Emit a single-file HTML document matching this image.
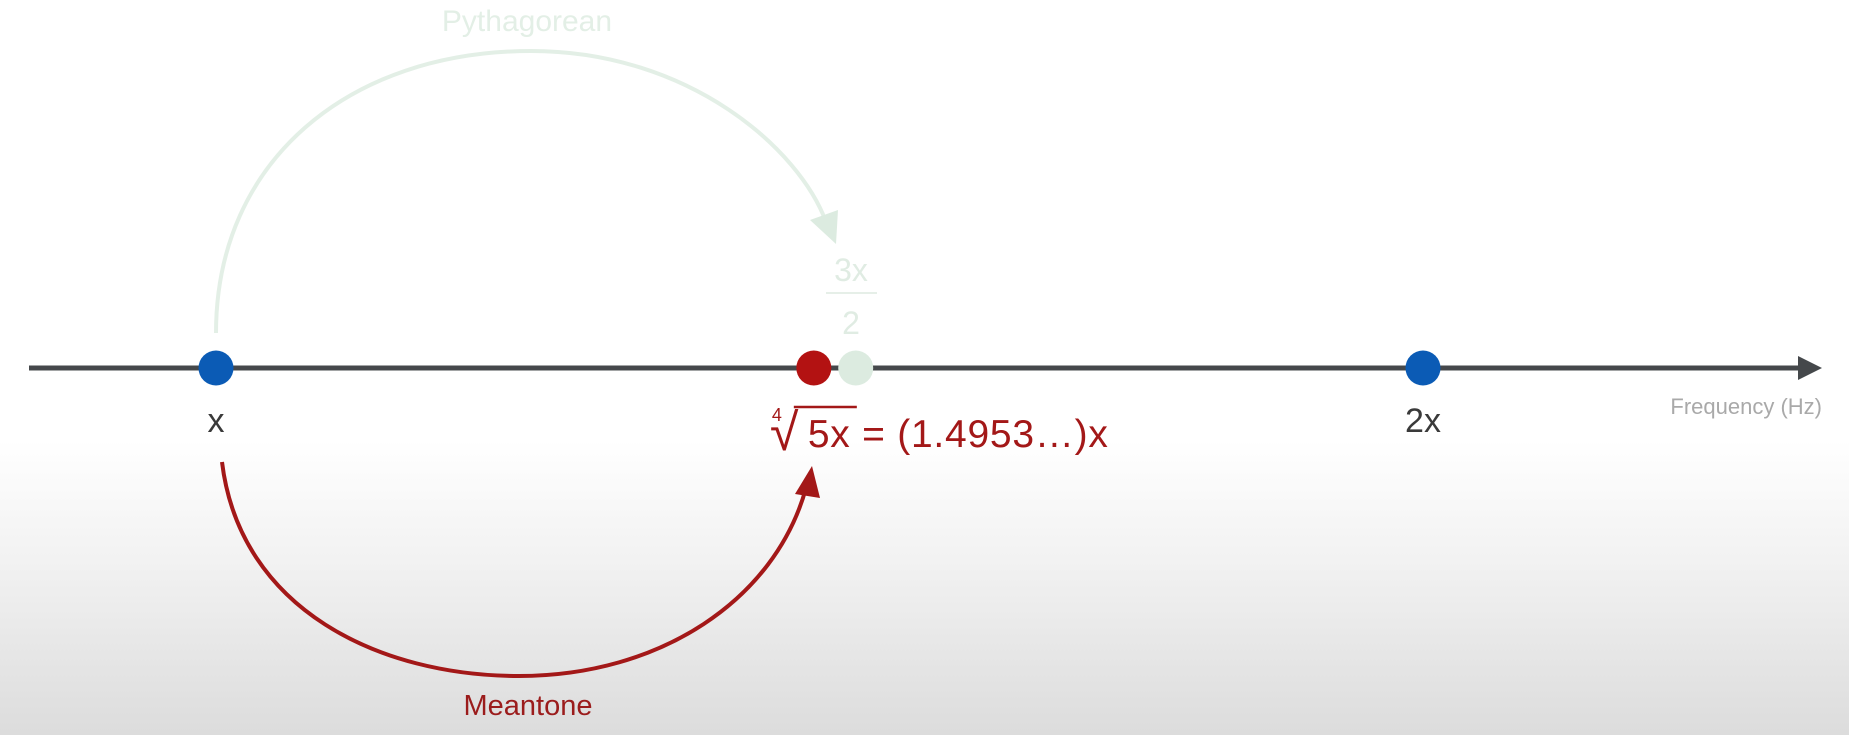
<!DOCTYPE html>
<html><head><meta charset="utf-8"><style>
html,body{margin:0;padding:0;}
body{width:1849px;height:735px;overflow:hidden;background:linear-gradient(to bottom,#ffffff 0px,#ffffff 440px,#f2f2f2 560px,#dcdcdc 735px);font-family:"Liberation Sans",sans-serif;}
svg{position:absolute;left:0;top:0;}
</style></head><body>
<svg id="chart" width="1849" height="735" viewBox="0 0 1849 735">
  <line x1="29" y1="368" x2="1805" y2="368" stroke="#45484b" stroke-width="5"/>
  <polygon points="1822,368 1798,356 1798,380" fill="#45484b"/>
  <text x="1822" y="414" text-anchor="end" font-size="22" fill="#a9a9a9">Frequency (Hz)</text>

  <path d="M216,333 C216,160 350,51 531,51 C690,51 800,150 826,222" fill="none" stroke="#e3efe6" stroke-width="4"/>
  <polygon points="836,244 810,220 838,210" fill="#dcebe0"/>
  <text x="527" y="31" text-anchor="middle" font-size="30" fill="#e3efe6">Pythagorean</text>
  <text x="851" y="281" text-anchor="middle" font-size="32" fill="#e0ece3">3x</text>
  <line x1="826" y1="293" x2="877" y2="293" stroke="#e6efe8" stroke-width="2"/>
  <text x="851" y="334" text-anchor="middle" font-size="32" fill="#e0ece3">2</text>

  <path d="M222,462 C240,610 380,676 519,676 C660,676 775,600 806,488" fill="none" stroke="#a31818" stroke-width="4"/>
  <polygon points="812,466 795,494 820,498" fill="#a31818"/>
  <text x="528" y="715" text-anchor="middle" font-size="29" fill="#9b1c1c">Meantone</text>

  <g id="points"></g>
  <g id="labels"></g>
</svg>
<script>
const pointNames = ['x', 'meantone-fifth', 'pythagorean-fifth', '2x'];
const pointRatios = [1, 1.4953, 1.53, 2];
const pointColors = ['#0b5bb5', '#b31212', '#dcebe0', '#0b5bb5'];
const tickLabels = ['x', '', '', '2x'];

const X0 = 216, X1 = 1423, AXIS_Y = 368;
function xScale(v){ return X0 + (v - 1) * (X1 - X0); }

const NS = 'http://www.w3.org/2000/svg';
const gp = document.getElementById('points');
const gl = document.getElementById('labels');
for (let i = 0; i < pointRatios.length; i++) {
  const c = document.createElementNS(NS, 'circle');
  c.setAttribute('cx', xScale(pointRatios[i]));
  c.setAttribute('cy', AXIS_Y);
  c.setAttribute('r', 17.5);
  c.setAttribute('fill', pointColors[i]);
  
  
  if (i === 2) gp.insertBefore(c, gp.firstChild); else gp.appendChild(c);
  if (tickLabels[i]) {
    const t = document.createElementNS(NS, 'text');
    t.setAttribute('x', xScale(pointRatios[i]));
    t.setAttribute('y', 432);
    t.setAttribute('text-anchor', 'middle');
    t.setAttribute('font-size', '34');
    t.setAttribute('fill', '#3a3a3a');
    t.textContent = tickLabels[i];
    
    
    gl.appendChild(t);
  }
}
const mx = xScale(pointRatios[1]);
const root = document.createElementNS(NS, 'text');
root.setAttribute('x', mx - 44);
root.setAttribute('y', 450);
root.setAttribute('font-size', '52');
root.setAttribute('fill', '#a31818');
root.textContent = '√';


gl.appendChild(root);
const idx = document.createElementNS(NS, 'text');
idx.setAttribute('x', mx - 42);
idx.setAttribute('y', 421);
idx.setAttribute('font-size', '18');
idx.setAttribute('fill', '#a31818');
idx.textContent = '4';


gl.appendChild(idx);
const bar = document.createElementNS(NS, 'line');
bar.setAttribute('x1', mx - 20);
bar.setAttribute('x2', mx + 43);
bar.setAttribute('y1', 407);
bar.setAttribute('y2', 407);
bar.setAttribute('stroke', '#a31818');
bar.setAttribute('stroke-width', '2.5');


gl.appendChild(bar);
const f = document.createElementNS(NS, 'text');
f.setAttribute('x', mx - 6);
f.setAttribute('y', 447);
f.setAttribute('font-size', '39');
f.setAttribute('fill', '#a31818');
f.setAttribute('textLength', '300');
f.textContent = '5x = (1.4953…)x';


gl.appendChild(f);
</script>
</body></html>
